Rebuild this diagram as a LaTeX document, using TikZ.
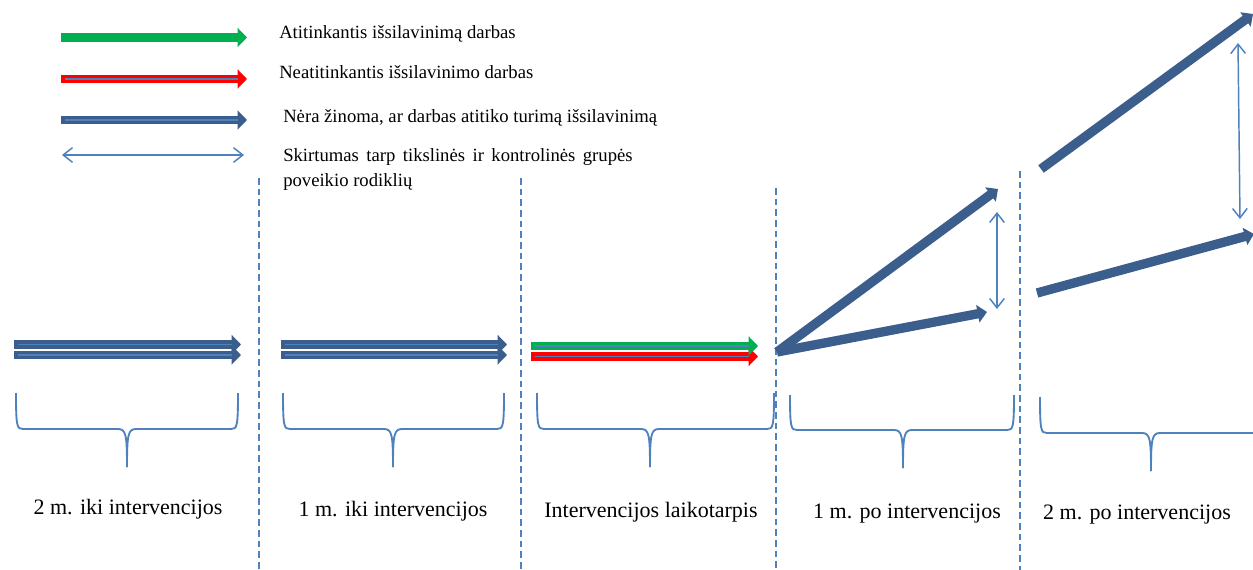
\documentclass[tikz,border=0pt]{standalone}
\usepackage{fontspec}
\setmainfont{Liberation Serif}
\usetikzlibrary{arrows.meta}
\definecolor{dblue}{RGB}{59,94,140}
\definecolor{lblue}{RGB}{79,129,189}
\definecolor{pgreen}{RGB}{0,176,80}
\definecolor{pred}{RGB}{255,0,0}
\tikzset{
  fatarrow/.style={line width=6.6pt,-{Triangle[length=7pt,width=14pt]}},
  slopearrow/.style={line width=7pt,color=dblue,-{Triangle[length=7pt,width=13pt]}},
  innerline/.style={line width=1.1pt,color=lblue},
  diffarrow/.style={line width=1.1pt,color=lblue,{Straight Barb[length=7pt,width=11pt]}-{Straight Barb[length=7pt,width=11pt]}},
  period/.style={line width=1.2pt,color=lblue,dash pattern=on 5pt off 3pt},
  bracestyle/.style={line width=1.4pt,color=lblue},
  legtext/.style={anchor=base west,inner sep=0pt,font=\fontsize{14pt}{18.75pt}\selectfont},
  labtext/.style={anchor=base,inner sep=0pt,font=\fontsize{16.5pt}{20pt}\selectfont}
}
\newcommand{\pbrace}[6]{%
  \draw[bracestyle] (#1,#4) .. controls (#1,#5-2) and (#1+1,#5) .. (#1+7,#5) -- (#3-9,#5) .. controls (#3-1,#5) and (#3,#5+6) .. (#3,#6);
  \draw[bracestyle] (#2,#4) .. controls (#2,#5-2) and (#2-1,#5) .. (#2-7,#5) -- (#3+9,#5) .. controls (#3+1,#5) and (#3,#5+6) .. (#3,#6);}
\begin{document}
\begin{tikzpicture}[x=0.75pt,y=-0.75pt]
\useasboundingbox (0,0) rectangle (1253,570);
% legend
\coordinate (g0) at (61,37.5); \coordinate (g1) at (247,37.5);
\coordinate (r0) at (61,79);   \coordinate (r1) at (247,79);
\coordinate (b0) at (61,120);  \coordinate (b1) at (247,120);
\coordinate (d0) at (62,155);  \coordinate (d1) at (244,155);
\draw[fatarrow,pgreen] (g0) -- (g1);
\draw[fatarrow,pred] (r0) -- (r1);
\draw[innerline] ([xshift=3pt]r0) -- ([xshift=-7pt]r1);
\draw[fatarrow,dblue] (b0) -- (b1);
\draw[innerline] ([xshift=3pt]b0) -- ([xshift=-7pt]b1);
\draw[diffarrow] (d0) -- (d1);
\node[legtext] (t1) at (279,39) {Atitinkantis išsilavinimą darbas};
\node[legtext] (t2) at (279,79) {Neatitinkantis išsilavinimo darbas};
\node[legtext] (t3) at (283,123) {Nėra žinoma, ar darbas atitiko turimą išsilavinimą};
\node[legtext,text width=262pt,align=justify] (t4) at (283,162) {Skirtumas tarp tikslinės ir kontrolinės grupės poveikio rodiklių};
% dashed separators
\coordinate (v1t) at (259,178); \coordinate (v1b) at (259,570);
\coordinate (v2t) at (521,178); \coordinate (v2b) at (521,570);
\coordinate (v3t) at (776,188); \coordinate (v3b) at (776,570);
\coordinate (v4t) at (1020,171); \coordinate (v4b) at (1020,570);
\draw[period] (v1t) -- (v1b);
\draw[period] (v2t) -- (v2b);
\draw[period] (v3t) -- (v3b);
\draw[period] (v4t) -- (v4b);
% section 1
\coordinate (a1s) at (14,344.5); \coordinate (a1e) at (241,344.5);
\coordinate (a2s) at (14,355); \coordinate (a2e) at (241,355);
\draw[fatarrow,dblue] (a1s) -- (a1e);
\draw[fatarrow,dblue] (a2s) -- (a2e);
\draw[innerline] ([xshift=3pt]a1s) -- ([xshift=-7pt]a1e);
\draw[innerline] ([xshift=3pt]a2s) -- ([xshift=-7pt]a2e);
% section 2
\coordinate (c1s) at (281,344.5); \coordinate (c1e) at (507,344.5);
\coordinate (c2s) at (281,355); \coordinate (c2e) at (507,355);
\draw[fatarrow,dblue] (c1s) -- (c1e);
\draw[fatarrow,dblue] (c2s) -- (c2e);
\draw[innerline] ([xshift=3pt]c1s) -- ([xshift=-7pt]c1e);
\draw[innerline] ([xshift=3pt]c2s) -- ([xshift=-7pt]c2e);
% section 3
\coordinate (e1s) at (531,346); \coordinate (e1e) at (758,346);
\coordinate (e2s) at (531,356.5); \coordinate (e2e) at (758,356.5);
\draw[fatarrow,pred] (e2s) -- (e2e);
\draw[innerline] ([xshift=3pt]e2s) -- ([xshift=-7pt]e2e);
\draw[fatarrow,pgreen] (e1s) -- (e1e);
\draw[innerline] ([xshift=3pt]e1s) -- ([xshift=-7pt]e1e);
% section 4
\coordinate (f0) at (777,352);
\coordinate (fu) at (998,189);
\coordinate (fl) at (987,312);
\draw[slopearrow] (f0) -- (fu);
\draw[slopearrow] (f0) -- (fl);
\coordinate (fd0) at (997,212); \coordinate (fd1) at (997,309);
\draw[diffarrow] (fd0) -- (fd1);
% section 5
\coordinate (h0) at (1041,169); \coordinate (h1) at (1253,14);
\coordinate (k0) at (1037,293); \coordinate (k1) at (1254,234);
\draw[slopearrow] (h0) -- (h1);
\draw[slopearrow] (k0) -- (k1);
\coordinate (hd0) at (1238,43); \coordinate (hd1) at (1240,219);
\draw[diffarrow] (hd0) -- (hd1);
% braces
\pbrace{16}{238}{127}{393}{429}{467}
\pbrace{283}{504}{393}{393}{429}{467}
\pbrace{537}{774}{650}{393}{429}{467}
\pbrace{790}{1014}{903}{395}{430}{468}
\pbrace{1040}{1270}{1151}{397}{433}{471}
% labels
\node[labtext] (l1) at (128,514) {2 m. iki intervencijos};
\node[labtext] (l2) at (393,516) {1 m. iki intervencijos};
\node[labtext] (l3) at (651,517) {Intervencijos laikotarpis};
\node[labtext] (l4) at (907,518) {1 m. po intervencijos};
\node[labtext] (l5) at (1137,519) {2 m. po intervencijos};
\end{tikzpicture}
\end{document}
